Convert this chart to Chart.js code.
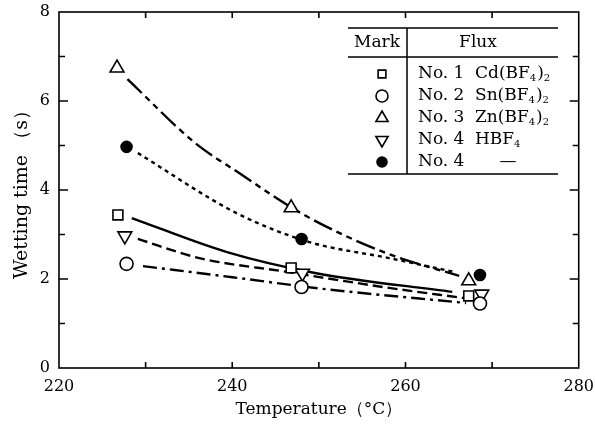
<!DOCTYPE html>
<html lang="en">
<head>
    <script src="https://cdn.jsdelivr.net/npm/chart.js@4.4.1/dist/chart.umd.min.js"></script>
    <title>Wetting time vs Temperature</title>
    <style>
        body { margin: 0; background: #fff; }
    </style>
</head>
<body>
<canvas id="myChart" width="595" height="428"></canvas>
</body>
<script>
    // measured points (temperature degC, wetting time s)
    const sqT = [226.8, 246.8, 267.3];
    const sqY = [3.44, 2.25, 1.62];
    const ciT = [227.8, 248.0, 268.6];
    const ciY = [2.34, 1.82, 1.45];
    const trT = [226.7, 246.8, 267.3];
    const trY = [6.74, 3.60, 1.96];
    const dtT = [227.6, 248.1, 268.8];
    const dtY = [2.97, 2.13, 1.66];
    const fcT = [227.8, 248.0, 268.6];
    const fcY = [4.97, 2.90, 2.09];

    // fitted curves
    const sqFitT = [228.4, 239.3, 249.7, 265.4];
    const sqFitY = [3.37, 2.61, 2.13, 1.71];
    const ciFitT = [229.7, 240.0, 250.4, 267.0];
    const ciFitY = [2.29, 2.04, 1.78, 1.46];
    const trFitT = [227.9, 235.7, 240.8, 248.3, 257.8, 266.2];
    const trFitY = [6.49, 5.06, 4.38, 3.44, 2.58, 2.07];
    const dtFitT = [229.1, 236.2, 246.3, 258.1, 266.8];
    const dtFitY = [2.90, 2.47, 2.16, 1.80, 1.57];
    const fcFitT = [229.1, 240.5, 248.9, 258.1, 265.6];
    const fcFitY = [4.83, 3.48, 2.83, 2.47, 2.16];

    // legend table
    const fluxNo = ["No. 1", "No. 2", "No. 3", "No. 4", "No. 4"];
    const fluxName = ["Cd(BF_4)_2", "Sn(BF_4)_2", "Zn(BF_4)_2", "HBF_4", "—"];

    const xMinorTicks = [230, 240, 250, 260, 270];
    const yMinorTicks = [1, 2, 3, 4, 5, 6, 7];

    const serif = "'DejaVu Serif', 'Liberation Serif', serif";
    const pts = (t, v) => t.map((x, i) => ({x: x, y: v[i]}));

    const marks = [
        {style: 'rect', rot: 0, r: 7, fill: '#fff'},
        {style: 'circle', rot: 0, r: 6.5, fill: '#fff'},
        {style: 'triangle', rot: 0, r: 8, fill: '#fff'},
        {style: 'triangle', rot: 180, r: 8, fill: '#fff'},
        {style: 'circle', rot: 0, r: 5.5, fill: '#000'}
    ];
    const markData = [pts(sqT, sqY), pts(ciT, ciY), pts(trT, trY), pts(dtT, dtY), pts(fcT, fcY)];
    const fitData = [pts(sqFitT, sqFitY), pts(ciFitT, ciFitY), pts(trFitT, trFitY), pts(dtFitT, dtFitY), pts(fcFitT, fcFitY)];
    const fitDash = [[], [14, 5, 3, 5], [20, 5, 6, 5, 6, 5], [10, 5], [4, 4]];

    const datasets = [];
    marks.forEach((m, i) => {
        datasets.push({
            data: markData[i],
            showLine: false,
            pointStyle: m.style,
            pointRotation: m.rot,
            pointRadius: m.r,
            pointBorderWidth: 1.6,
            pointBorderColor: '#000',
            pointBackgroundColor: m.fill
        });
    });
    fitData.forEach((d, i) => {
        datasets.push({
            data: d,
            borderColor: '#000',
            borderWidth: 2.4,
            borderDash: fitDash[i],
            pointRadius: 0,
            cubicInterpolationMode: 'monotone',
            fill: false
        });
    });

    function drawFormula(ctx, str, x, y) {
        const parts = str.split('_');
        ctx.textAlign = 'left';
        ctx.textBaseline = 'middle';
        parts.forEach((p, k) => {
            let txt = p;
            if (k > 0) {
                ctx.font = "10px " + serif;
                ctx.fillText(p[0], x, y + 4);
                x += ctx.measureText(p[0]).width + 1;
                txt = p.slice(1);
            }
            ctx.font = "17px " + serif;
            ctx.fillText(txt, x, y);
            x += ctx.measureText(txt).width;
        });
    }

    const frameAndTable = {
        id: 'frameAndTable',
        afterDraw(chart) {
            const {ctx, chartArea: a, scales: {x, y}} = chart;
            ctx.save();
            ctx.strokeStyle = '#000';
            ctx.lineWidth = 1.6;
            ctx.strokeRect(a.left, a.top, a.right - a.left, a.bottom - a.top);
            ctx.beginPath();
            xMinorTicks.forEach(v => {
                const px = x.getPixelForValue(v);
                ctx.moveTo(px, a.bottom); ctx.lineTo(px, a.bottom - 6);
                ctx.moveTo(px, a.top); ctx.lineTo(px, a.top + 6);
            });
            yMinorTicks.forEach(v => {
                const py = y.getPixelForValue(v);
                const len = v % 2 === 0 ? 9 : 6;
                ctx.moveTo(a.left, py); ctx.lineTo(a.left + len, py);
                ctx.moveTo(a.right, py); ctx.lineTo(a.right - len, py);
            });
            ctx.stroke();

            // legend table
            ctx.lineWidth = 1.5;
            ctx.beginPath();
            ctx.moveTo(348, 28); ctx.lineTo(558, 28);
            ctx.moveTo(348, 57); ctx.lineTo(558, 57);
            ctx.moveTo(348, 174); ctx.lineTo(558, 174);
            ctx.moveTo(407, 28); ctx.lineTo(407, 174);
            ctx.stroke();

            ctx.fillStyle = '#000';
            ctx.font = "17px " + serif;
            ctx.textAlign = 'center';
            ctx.textBaseline = 'middle';
            ctx.fillText("Mark", 377, 43);
            ctx.fillText("Flux", 478, 43);

            const rowY = [74, 96, 118, 140, 162];
            const legR = [5.5, 6, 7, 7, 5];
            fluxNo.forEach((no, i) => {
                const m = marks[i];
                ctx.fillStyle = m.fill;
                ctx.strokeStyle = '#000';
                ctx.lineWidth = 1.6;
                Chart.helpers.drawPoint(ctx, {
                    pointStyle: m.style, rotation: m.rot, radius: legR[i], borderWidth: 1.6
                }, 382, rowY[i]);
                ctx.fillStyle = '#000';
                ctx.font = "17px " + serif;
                ctx.textAlign = 'left';
                ctx.fillText(no, 418, rowY[i]);
                if (fluxName[i] === '—') {
                    ctx.textAlign = 'center';
                    ctx.fillText(fluxName[i], 508, rowY[i]);
                } else {
                    drawFormula(ctx, fluxName[i], 475, rowY[i]);
                }
            });
            ctx.restore();
        }
    };

    const chart = new Chart("myChart", {
        type: "line",
        data: {datasets: datasets},
        options: {
            responsive: false,
            animation: false,
            devicePixelRatio: 1,
            layout: {autoPadding: false, padding: {top: 12, right: 15, left: 0, bottom: 0}},
            plugins: {legend: {display: false}, tooltip: {enabled: false}},
            scales: {
                x: {
                    type: 'linear', min: 220, max: 280,
                    grid: {display: false}, border: {display: false},
                    ticks: {stepSize: 20, color: '#000', padding: 1, maxRotation: 0, font: {family: serif, size: 16}},
                    title: {display: true, text: "Temperature（°C）", color: '#000',
                        font: {family: serif, size: 17}, padding: {top: 4, bottom: 8}},
                    afterFit: s => { s.height = 60; }
                },
                y: {
                    type: 'linear', min: 0, max: 8,
                    grid: {display: false}, border: {display: false},
                    ticks: {stepSize: 2, color: '#000', padding: 1, font: {family: serif, size: 16}},
                    title: {display: true, text: "Wetting time （s）", color: '#000',
                        font: {family: serif, size: 19}, padding: {top: 11, bottom: 4}},
                    afterFit: s => { s.width = 59; }
                }
            }
        },
        plugins: [frameAndTable]
    });
</script>
</html>
